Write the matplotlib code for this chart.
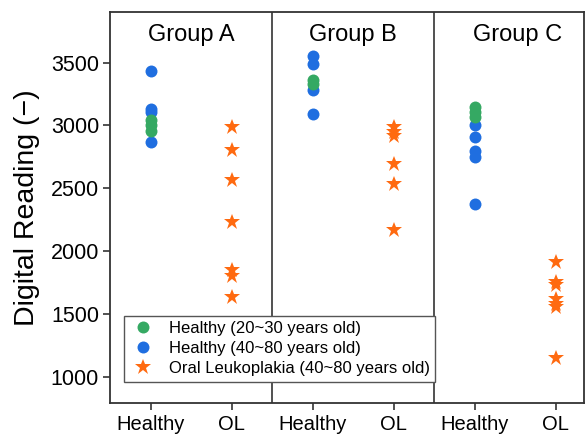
import matplotlib
matplotlib.use('Agg')
import matplotlib.pyplot as plt
from matplotlib.lines import Line2D

plt.rcParams['font.family'] = ['Liberation Sans', 'DejaVu Sans']

groups = ['Group A', 'Group B', 'Group C']
tick_labels = ['Healthy', 'OL', 'Healthy', 'OL', 'Healthy', 'OL']

# readings per group
young_healthy = [
    [3040, 3000, 2960],
    [3360, 3330],
    [3145, 3110, 3065],
]
old_healthy = [
    [3430, 3130, 3110, 2870],
    [3550, 3490, 3285, 3095],
    [3000, 2910, 2800, 2750, 2375],
]
leukoplakia = [
    [2990, 2805, 2570, 2235, 1855, 1805, 1635],
    [2985, 2950, 2920, 2695, 2535, 2170],
    [1920, 1760, 1735, 1620, 1585, 1555, 1150],
]

c_green = '#35a963'
c_blue = '#1f6ee0'
c_orange = '#ff6a10'
edge = '#333333'

fig, ax = plt.subplots(figsize=(5.86, 4.34), dpi=100)
fig.subplots_adjust(left=0.188, right=0.997, top=0.972, bottom=0.071)

for i in range(len(groups)):
    xh = 2 * i
    xo = 2 * i + 1
    ax.plot([xh] * len(old_healthy[i]), old_healthy[i], 'o', color=c_blue, ms=8.6, mew=0, zorder=3)
    ax.plot([xh] * len(young_healthy[i]), young_healthy[i], 'o', color=c_green, ms=8.6, mew=0, zorder=4)
    ax.plot([xo] * len(leukoplakia[i]), leukoplakia[i], '*', color=c_orange, ms=12, mew=0, zorder=3)
    ax.text(2 * i + 0.5 + (0.03 if i == 2 else 0), 3672, groups[i], ha='center', va='baseline', fontsize=17)

for xv in [1.5, 3.5]:
    ax.axvline(xv, color=edge, lw=1.2, zorder=1)

ax.set_xlim(-0.5, 5.35)
ax.set_ylim(795, 3900)
ax.set_xticks(range(6))
ax.set_xticklabels(tick_labels, fontsize=14.5)
ax.set_yticks([1000, 1500, 2000, 2500, 3000, 3500])
ax.tick_params(axis='y', labelsize=15.5, length=5, width=1.2, color=edge, pad=3)
ax.tick_params(axis='x', length=5, width=1.2, color=edge, pad=3.5)
ax.set_ylabel('Digital Reading (\u2212)', fontsize=20.5, labelpad=8)
for s in ax.spines.values():
    s.set_color(edge)
    s.set_linewidth(1.3)

handles = [
    Line2D([], [], marker='o', ls='', color=c_green, ms=8.6, mew=0),
    Line2D([], [], marker='o', ls='', color=c_blue, ms=8.6, mew=0),
    Line2D([], [], marker='*', ls='', color=c_orange, ms=12, mew=0),
]
leg = ax.legend(handles, ['Healthy (20~30 years old)', 'Healthy (40~80 years old)',
                          'Oral Leukoplakia (40~80 years old)'],
                loc='lower left', bbox_to_anchor=(0.0295, 0.055), fontsize=12,
                fancybox=False, framealpha=1, edgecolor='#555555',
                handletextpad=0.75, labelspacing=0.3, borderpad=0.33, handlelength=1.6,
                borderaxespad=0)
leg.get_frame().set_linewidth(1.0)
leg.set_zorder(5)

fig.savefig('out.png', dpi=100)
